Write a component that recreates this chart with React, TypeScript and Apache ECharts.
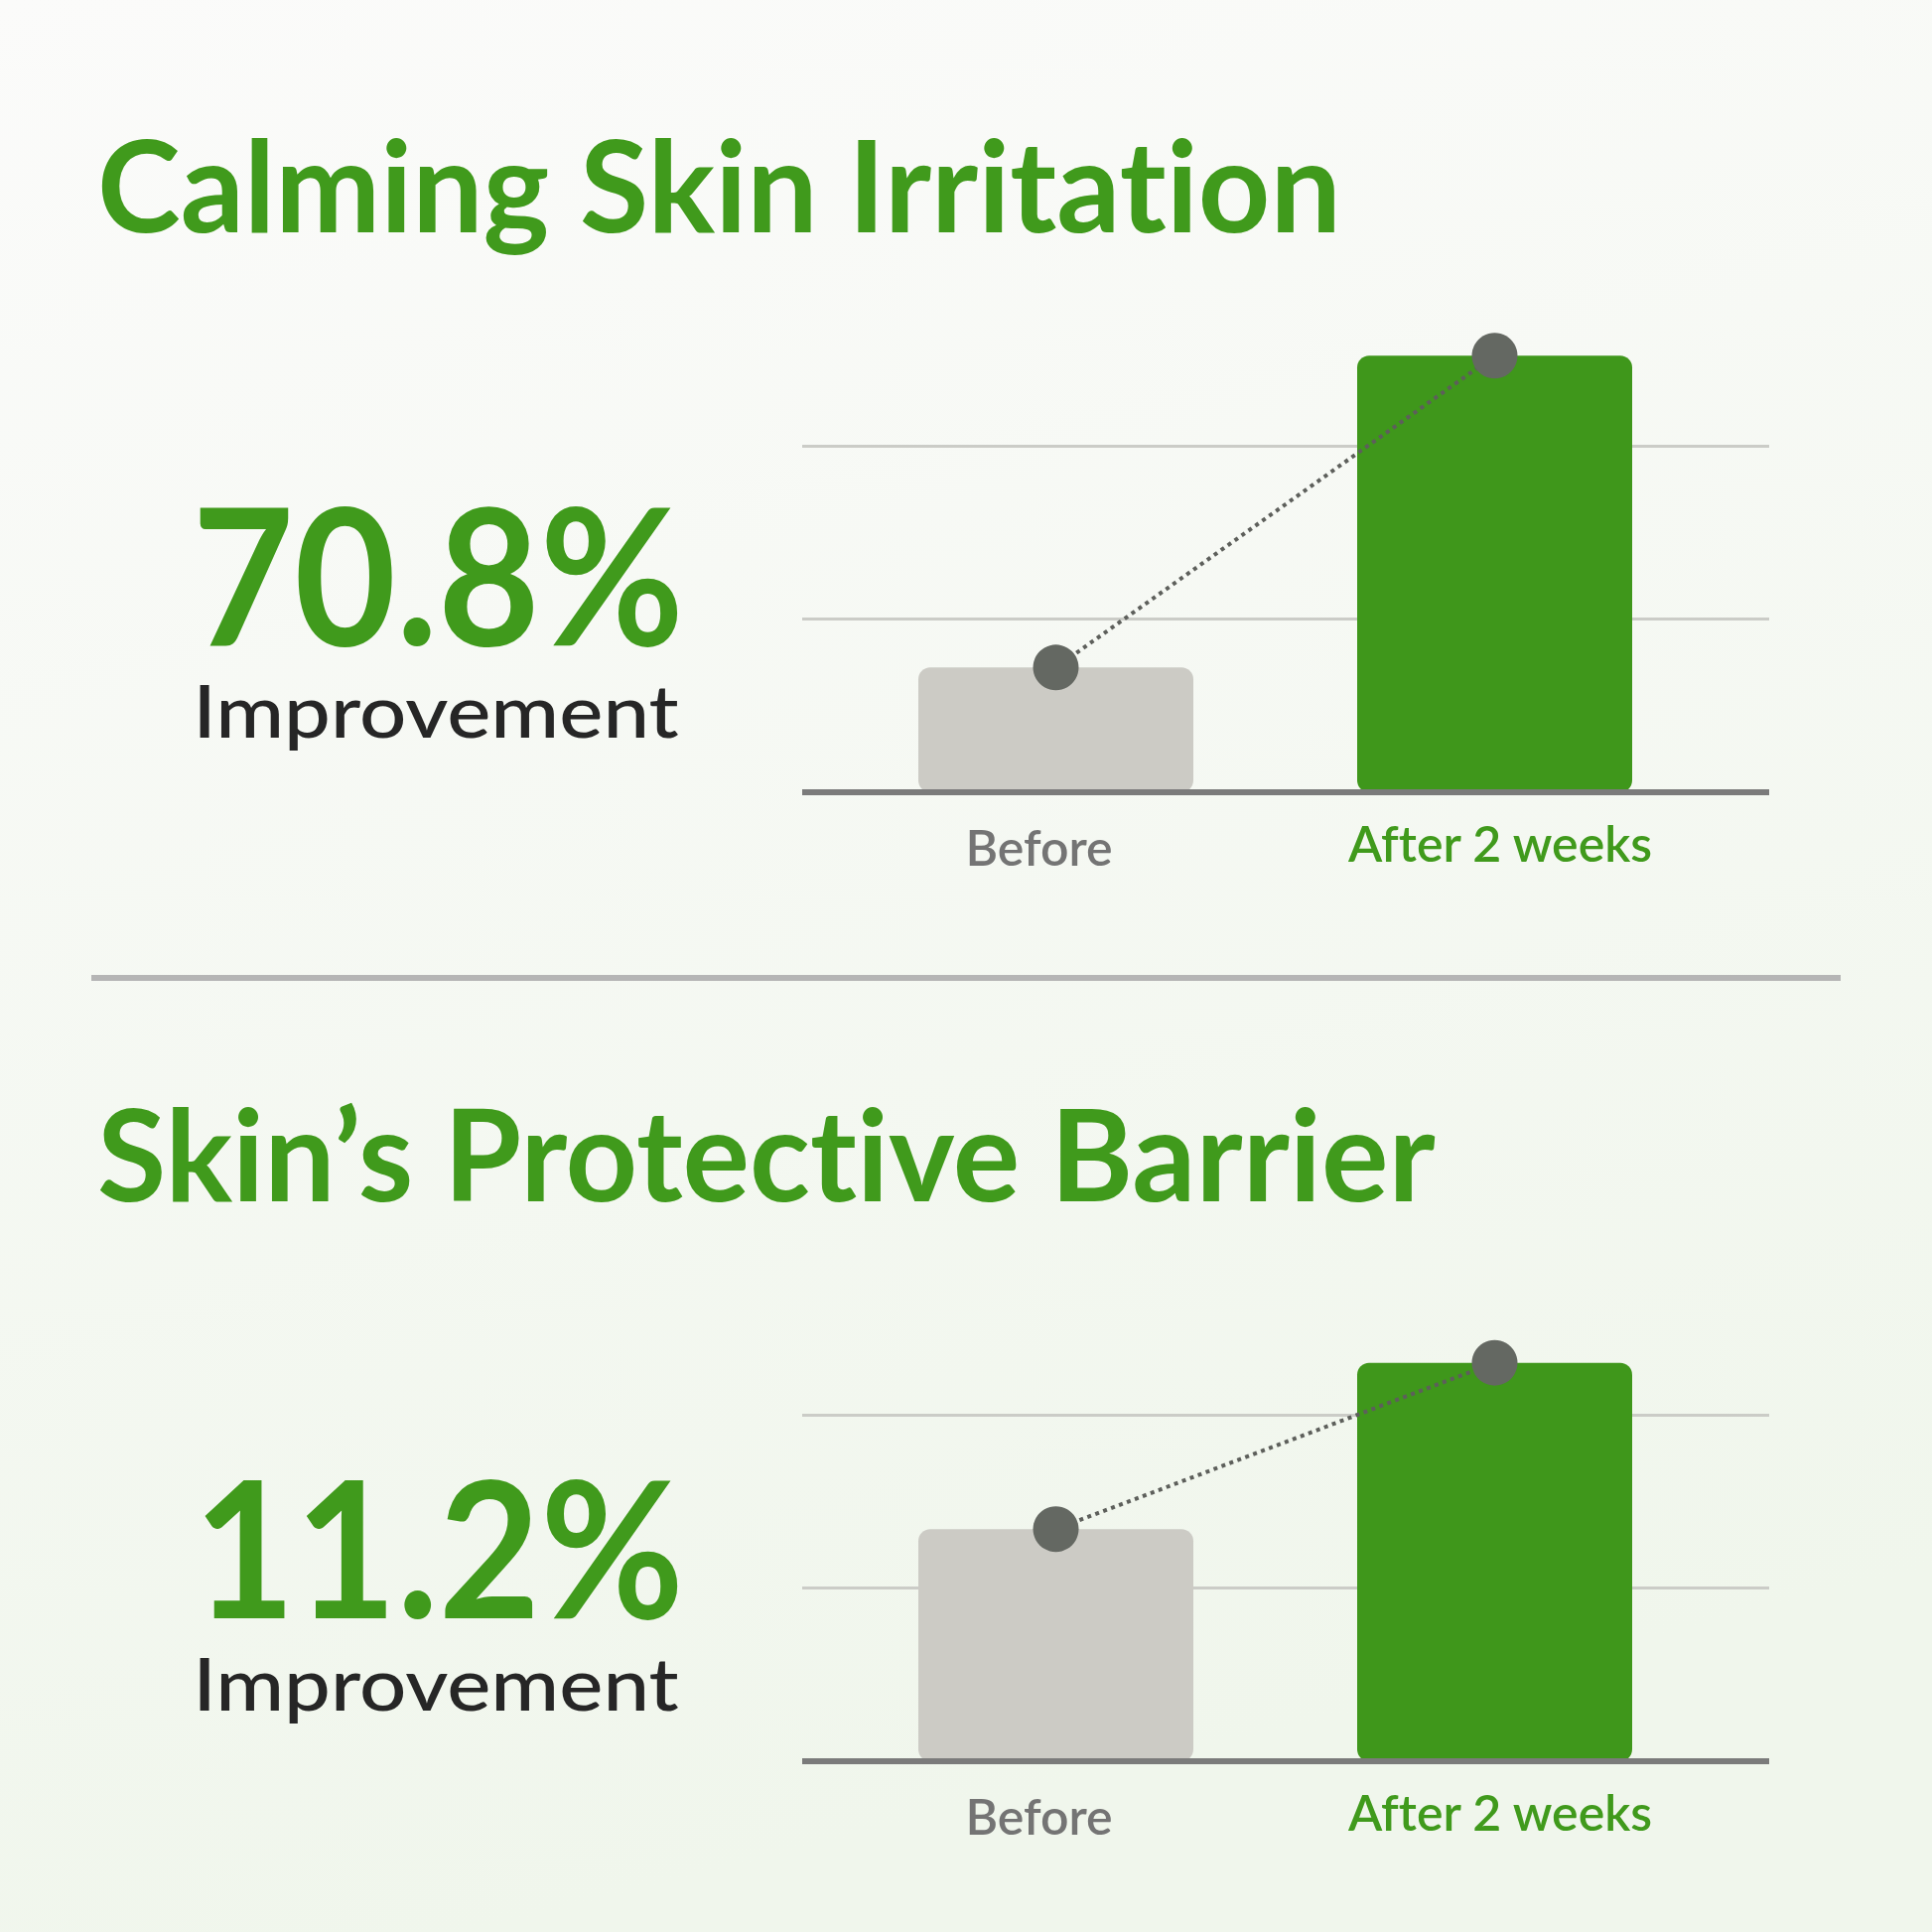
import React, { useEffect, useRef } from 'react';
import * as echarts from 'echarts';

// bar heights, in grid steps (the two light rules sit at 1 and 2)
const categories = ['Before', 'After 2 weeks'];
const irritationValues = [0.72, 2.52];
const barrierValues = [1.34, 2.3];
const yMin = 0;
const yMax = 3;
const yInterval = 1;

const panelTitles = ['Calming Skin Irritation', 'Skin\u2019s Protective Barrier'];
const improvements = ['70.8%', '11.2%'];
const improvementLabel = 'Improvement';

const GREEN = '#409a1c';
const BAR_COLORS = ['#cccbc5', '#3f971b'];
const LABEL_COLORS = ['#747474', GREEN];
const PANEL_STEP = 976;

function fitText(text, font, left, right, baseline, color) {
  const ctx = document.createElement('canvas').getContext('2d');
  ctx.font = font;
  // measure without the "ti" ligature, which is switched off in the svg too
  const m = ctx.measureText(text.replace(/ti/g, 't\u200Ci'));
  const ink = m.actualBoundingBoxLeft + m.actualBoundingBoxRight;
  const s = (right - left) / ink;
  const size = parseFloat(font.split(' ')[1]);
  const central =
    m.fontBoundingBoxAscent !== undefined
      ? (m.fontBoundingBoxAscent - m.fontBoundingBoxDescent) / 2
      : 0.387 * size;
  return {
    type: 'text',
    x: left + s * m.actualBoundingBoxLeft,
    y: baseline - central,
    scaleX: s,
    silent: true,
    style: { text, font, fill: color, align: 'left', verticalAlign: 'middle' },
  };
}

function App() {
  const chartRef = useRef(null);

  useEffect(() => {
    if (!chartRef.current) return;
    const chart = echarts.init(chartRef.current, null, { renderer: 'svg' });

    const panels = [irritationValues, barrierValues];
    const grids = [];
    const xAxes = [];
    const yAxes = [];
    const series = [];
    const graphics: any[] = [
      {
        type: 'rect',
        z: -10,
        silent: true,
        shape: { x: 0, y: 0, width: 1946, height: 1946 },
        style: {
          fill: new echarts.graphic.LinearGradient(0, 0, 0.25, 1, [
            { offset: 0, color: '#fbfbfa' },
            { offset: 1, color: '#f0f6ec' },
          ]),
        },
      },
      {
        type: 'line',
        silent: true,
        shape: { x1: 92, y1: 985, x2: 1854, y2: 985 },
        style: { stroke: '#b5b5b5', lineWidth: 6 },
      },
    ];

    panels.forEach((values, p) => {
      const dy = p * PANEL_STEP;
      const top = 274.5 + dy;
      const height = 523.5;

      // wide grid: rules and base line
      grids.push({ left: 808, width: 974, top, height });
      // narrow grid: bars, points and labels
      grids.push({ left: 842.5, width: 884, top, height });

      const gi = p * 2;
      xAxes.push({
        gridIndex: gi,
        type: 'category',
        data: categories,
        z: 5,
        axisLine: { show: true, lineStyle: { color: '#7b7b7b', width: 6, cap: 'butt' } },
        axisTick: { show: false },
        axisLabel: { show: false },
        splitLine: { show: false },
      });
      xAxes.push({
        gridIndex: gi + 1,
        type: 'category',
        data: categories.map((c, i) => ({
          value: c,
          textStyle: {
            color: LABEL_COLORS[i],
            padding: i === 0 ? [4, 34, 0, 0] : [0, 0, 0, 11],
          },
        })),
        axisLine: { show: false },
        axisTick: { show: false },
        axisLabel: {
          interval: 0,
          margin: 26,
          fontFamily: 'Lato',
          fontWeight: 600,
          fontSize: 50,
        },
        splitLine: { show: false },
      });
      yAxes.push({
        gridIndex: gi,
        type: 'value',
        min: yMin,
        max: yMax,
        interval: yInterval,
        axisLine: { show: false },
        axisTick: { show: false },
        axisLabel: { show: false },
        splitLine: {
          show: true,
          showMaxLine: false,
          lineStyle: { color: ['#cbccc7', '#cbccc7', '#cbccc7', 'rgba(0,0,0,0)'], width: 3 },
        },
      });
      yAxes.push({
        gridIndex: gi + 1,
        type: 'value',
        min: yMin,
        max: yMax,
        interval: yInterval,
        axisLine: { show: false },
        axisTick: { show: false },
        axisLabel: { show: false },
        splitLine: { show: false },
      });

      series.push({
        type: 'bar',
        xAxisIndex: gi + 1,
        yAxisIndex: gi + 1,
        barWidth: 277,
        data: values.map((v, i) => ({
          value: v,
          itemStyle: { color: BAR_COLORS[i], borderRadius: 12 },
        })),
      });
      series.push({
        type: 'line',
        xAxisIndex: gi + 1,
        yAxisIndex: gi + 1,
        z: 3,
        data: values,
        symbol: 'circle',
        symbolSize: 46,
        itemStyle: { color: '#646862' },
        lineStyle: { color: '#5d5f5b', width: 4, type: [4, 4.5] },
      });

      graphics.push(
        fitText(panelTitles[p], '700 128px Lato', p === 0 ? 102 : 100, p === 0 ? 1345 : 1446, 234 + dy, GREEN)
      );
      graphics.push(
        fitText(improvements[p], '700 191px Lato', p === 0 ? 201 : 206, 683, 650 + dy * (980 / 976), GREEN)
      );
      graphics.push(
        fitText(improvementLabel, '500 73px Lato', 201, 683, 743 + dy * (980 / 976), '#262626')
      );
    });

    chart.setOption({
      animation: false,
      backgroundColor: 'transparent',
      grid: grids,
      xAxis: xAxes,
      yAxis: yAxes,
      series,
      graphic: graphics,
    });

    return () => {
      chart.dispose();
    };
  }, []);

  return (
    <>
      <style>
        {'#root svg text{font-variant-ligatures:none !important;font-feature-settings:"liga" 0, "clig" 0 !important;}'}
      </style>
      <div
        ref={chartRef}
        style={{ position: 'fixed', left: 0, top: 0, width: '1946px', height: '1946px' }}
      />
    </>
  );
}

export default App;
